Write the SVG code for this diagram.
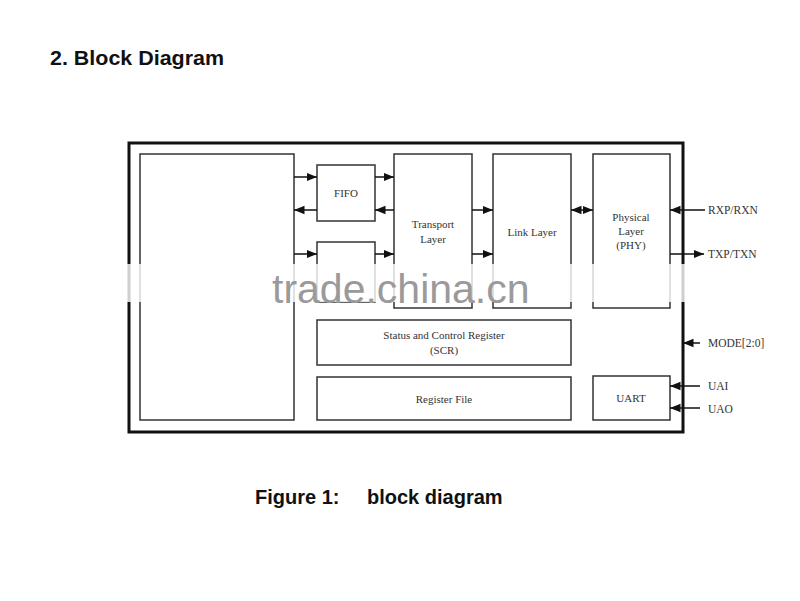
<svg xmlns="http://www.w3.org/2000/svg" width="800" height="601" viewBox="0 0 800 601">
<defs>
<marker id="ah" viewBox="0 0 10 10" refX="10" refY="5" markerWidth="7" markerHeight="7" orient="auto-start-reverse"><path d="M0,1 L10,5 L0,9 z" fill="#111"/></marker>
<style>
.b{fill:#fff;stroke:#333;stroke-width:1.5}
.t{font-family:"Liberation Serif",serif;font-size:11px;fill:#333;text-anchor:middle}
.p{font-family:"Liberation Serif",serif;font-size:11.5px;fill:#333}
.c{stroke:#111;stroke-width:1.5;fill:none;marker-end:url(#ah)}
.h{font-family:"Liberation Sans",Arial,sans-serif;font-weight:bold;fill:#111}
</style>
</defs>
<rect width="800" height="601" fill="#fff"/>
<text class="h" x="50" y="65" font-size="20" textLength="174" lengthAdjust="spacingAndGlyphs">2. Block Diagram</text>
<rect x="129" y="143" width="554" height="289" fill="#fff" stroke="#111" stroke-width="3"/>
<g id="cpu"><rect class="b" x="140" y="154" width="154" height="266"/></g>
<g id="fifo"><rect class="b" x="317" y="165" width="58" height="56"/><text class="t" x="346" y="197">FIFO</text></g>
<g id="fifo2"><rect class="b" x="317" y="242" width="58" height="60"/></g>
<g id="transport"><rect class="b" x="394" y="154" width="78" height="154"/><text class="t" x="433" y="228">Transport</text><text class="t" x="433" y="243">Layer</text></g>
<g id="link"><rect class="b" x="493" y="154" width="78" height="154"/><text class="t" x="532" y="236">Link Layer</text></g>
<g id="phy"><rect class="b" x="593" y="154" width="77" height="154"/><text class="t" x="631" y="221">Physical</text><text class="t" x="631" y="235">Layer</text><text class="t" x="631" y="249">(PHY)</text></g>
<g id="scr"><rect class="b" x="317" y="320" width="254" height="45"/><text class="t" x="444" y="339">Status and Control Register</text><text class="t" x="444" y="354">(SCR)</text></g>
<g id="regfile"><rect class="b" x="317" y="377" width="254" height="43"/><text class="t" x="444" y="403">Register File</text></g>
<g id="uart"><rect class="b" x="593" y="376" width="77" height="44"/><text class="t" x="631" y="402">UART</text></g>
<g id="connectors">
<path class="c" d="M294,177 H317"/>
<path class="c" d="M317,210 H294"/>
<path class="c" d="M375,177 H394"/>
<path class="c" d="M394,210 H375"/>
<path class="c" d="M294,254 H317"/>
<path class="c" d="M375,254 H394"/>
<path class="c" d="M472,210 H493"/>
<path class="c" d="M472,254 H493"/>
<path class="c" d="M571,210 H593" marker-start="url(#ah)"/>
<path class="c" d="M705,210 H670"/>
<path class="c" d="M670,254 H704"/>
<path class="c" d="M700,343 H683"/>
<path class="c" d="M700,386 H670"/>
<path class="c" d="M700,408 H670"/>
</g>
<text class="p" x="708" y="214">RXP/RXN</text>
<text class="p" x="708" y="258">TXP/TXN</text>
<text class="p" x="708" y="347">MODE[2:0]</text>
<text class="p" x="708" y="390">UAI</text>
<text class="p" x="708" y="413">UAO</text>
<rect x="100" y="264" width="600" height="38" fill="#fff" opacity="0.8"/>
<text x="272" y="303" font-family="Liberation Sans,Arial,sans-serif" font-size="41" fill="#9a9a9a">trade.china.cn</text>
<text class="h" x="255" y="504" font-size="20">Figure 1:</text>
<text class="h" x="367" y="504" font-size="20">block diagram</text>
</svg>
